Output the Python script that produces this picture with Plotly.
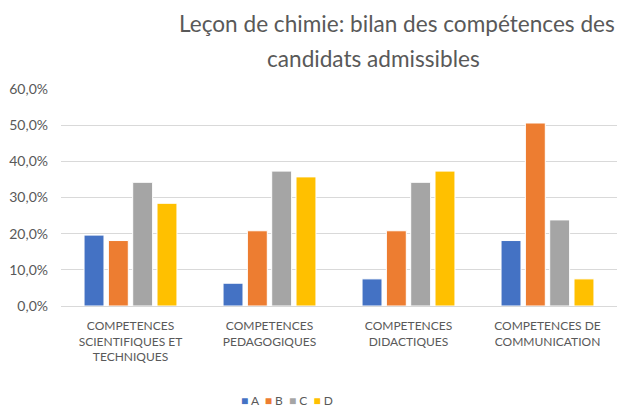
import plotly.graph_objects as go

categories = [
    "COMPETENCES<br>SCIENTIFIQUES ET<br>TECHNIQUES",
    "COMPETENCES<br>PEDAGOGIQUES",
    "COMPETENCES<br>DIDACTIQUES",
    "COMPETENCES DE<br>COMMUNICATION",
]
series_names = ["A", "B", "C", "D"]
values_A = [0.196, 0.063, 0.075, 0.181]
values_B = [0.181, 0.208, 0.208, 0.506]
values_C = [0.342, 0.373, 0.342, 0.238]
values_D = [0.284, 0.357, 0.373, 0.075]
colors = ["#4472C4", "#ED7D31", "#A5A5A5", "#FFC000"]

FONT = "Lato, 'Open Sans', sans-serif"
GREY = "#595959"

fig = go.Figure()
for name, vals, col in zip(series_names, [values_A, values_B, values_C, values_D], colors):
    fig.add_trace(go.Bar(
        name=name, x=categories, y=vals, showlegend=False,
        marker=dict(color=col, line=dict(color="white", width=1)),
    ))

# page body has an 8px margin: figure is drawn 8px in from the window edge
OFF = 8
W, H = 630 - OFF, 407 - OFF
ml, mr, mt, mb = 61 - OFF, 13, 89 - OFF, 101

def px(x):
    return (x - OFF - ml) / (W - ml - mr)

def py(y):
    return (H - mb - (y - OFF)) / (H - mt - mb)

legend_text = "&nbsp;&nbsp;".join(
    f'<span style="color:{c}">■</span> {n}' for n, c in zip(series_names, colors)
)

fig.update_layout(
    width=W, height=H,
    margin=dict(l=ml, r=mr, t=mt, b=mb, autoexpand=False),
    paper_bgcolor="white", plot_bgcolor="white",
    separators=", ",
    barmode="group", bargap=0.3, bargroupgap=0.18,
    font=dict(family=FONT, size=12, color=GREY),
    showlegend=False,
    xaxis=dict(showgrid=False, showline=False, ticks="", tickfont=dict(size=12, color=GREY),
               tickangle=0, automargin=False, ticklabelstandoff=11),
    yaxis=dict(range=[0, 0.6], dtick=0.1, tickformat=".1%", showgrid=True,
               gridcolor="#D9D9D9", gridwidth=1, zeroline=True, zerolinecolor="#D9D9D9",
               zerolinewidth=1, showline=False, ticks="", tickfont=dict(size=14, color=GREY),
               automargin=False, ticklabelstandoff=12, fixedrange=True),
    annotations=[
        dict(text="Leçon de chimie: bilan des compétences des", xref="paper", yref="paper",
             x=px(177), y=py(23), xanchor="left", yanchor="middle", showarrow=False,
             font=dict(family=FONT, size=22.6, color=GREY)),
        dict(text="candidats admissibles", xref="paper", yref="paper",
             x=px(265), y=py(58), xanchor="left", yanchor="middle", showarrow=False,
             font=dict(family=FONT, size=22.6, color=GREY)),
        dict(text=legend_text, xref="paper", yref="paper",
             x=px(239), y=py(400), xanchor="left", yanchor="middle", showarrow=False,
             font=dict(family=FONT, size=12, color=GREY)),
    ],
)

fig.write_html("out.html")
